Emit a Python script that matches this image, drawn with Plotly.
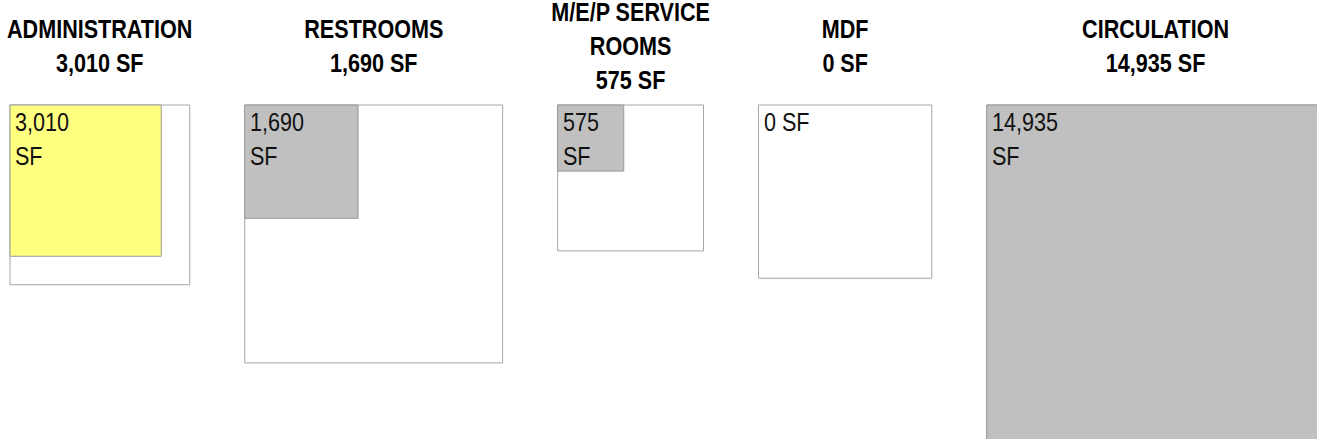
import math
import plotly.graph_objects as go

# ---- data ----
categories = ["ADMINISTRATION", "RESTROOMS", "M/E/P SERVICE<br>ROOMS", "MDF", "CIRCULATION"]
actual_sf = [3010, 1690, 575, 0, 14935]
target_sf = [4250, 8750, 2800, 3950, 14935]
fill_colors = ["#FFFF80", "#C0C0C0", "#C0C0C0", "#C0C0C0", "#C0C0C0"]

# ---- layout constants (axis units = feet, i.e. sqrt(SF)) ----
W, H = 1317, 439
PX_PER_FT = 2.757
X_START = 10 / PX_PER_FT
GAP = 55 / PX_PER_FT
TOP = 105 / PX_PER_FT
TITLE_Y = 46 / PX_PER_FT

FONT = "Liberation Sans Narrow, Arial Narrow, Liberation Sans, Arial, sans-serif"

fig = go.Figure()
shapes = []
annotations = []

x = X_START
for cat, act, tgt, col in zip(categories, actual_sf, target_sf, fill_colors):
    s_out = math.sqrt(tgt)
    s_in = math.sqrt(act)
    width = max(s_out, s_in)
    # outer (target) box
    shapes.append(dict(type="rect", xref="x", yref="y", x0=x, x1=x + s_out,
                       y0=TOP, y1=TOP + s_out, fillcolor="white",
                       line=dict(color="#A6A6A6", width=1), layer="above"))
    # inner (actual) box
    if act > 0:
        shapes.append(dict(type="rect", xref="x", yref="y", x0=x, x1=x + s_in,
                           y0=TOP, y1=TOP + s_in, fillcolor=col,
                           line=dict(color="#999999", width=1), layer="above"))
    label = f"{act:,}<br>SF" if act > 0 else f"{act:,} SF"
    annotations.append(dict(x=x + 3 / PX_PER_FT, y=TOP, xref="x", yref="y",
                            text=label, showarrow=False, xanchor="left", yanchor="top",
                            align="left", font=dict(family=FONT, size=26, color="#111111")))
    annotations.append(dict(x=x + width / 2, y=TITLE_Y, xref="x", yref="y",
                            text=f"{cat}<br>{act:,} SF", showarrow=False,
                            xanchor="center", yanchor="middle", align="center",
                            font=dict(family=FONT, size=26, color="#000000", weight="bold")))
    x += width + GAP

# invisible trace to anchor the axes
fig.add_trace(go.Scatter(x=[0], y=[0], mode="markers", marker=dict(opacity=0),
                         hoverinfo="skip", showlegend=False))

fig.update_layout(
    width=W, height=H,
    margin=dict(l=0, r=0, t=0, b=0),
    paper_bgcolor="white", plot_bgcolor="white",
    shapes=shapes, annotations=annotations,
    xaxis=dict(range=[0, W / PX_PER_FT], visible=False, fixedrange=True),
    yaxis=dict(range=[H / PX_PER_FT, 0], visible=False, fixedrange=True),
    showlegend=False,
)

# condense the text horizontally (no narrow font is installed)
post = """
document.body.style.margin='0';
document.body.style.overflow='hidden';
document.querySelectorAll('text.annotation-text').forEach(function(t){
  var anchor = t.getAttribute('text-anchor') || 'start';
  t.style.transformBox = 'fill-box';
  t.style.transformOrigin = (anchor === 'middle') ? 'center' : (anchor === 'end' ? 'right' : 'left');
  t.style.transform = 'scaleX(0.83)';
});
"""

fig.write_html("out.html", config={"displayModeBar": False, "staticPlot": True},
               post_script=post)
